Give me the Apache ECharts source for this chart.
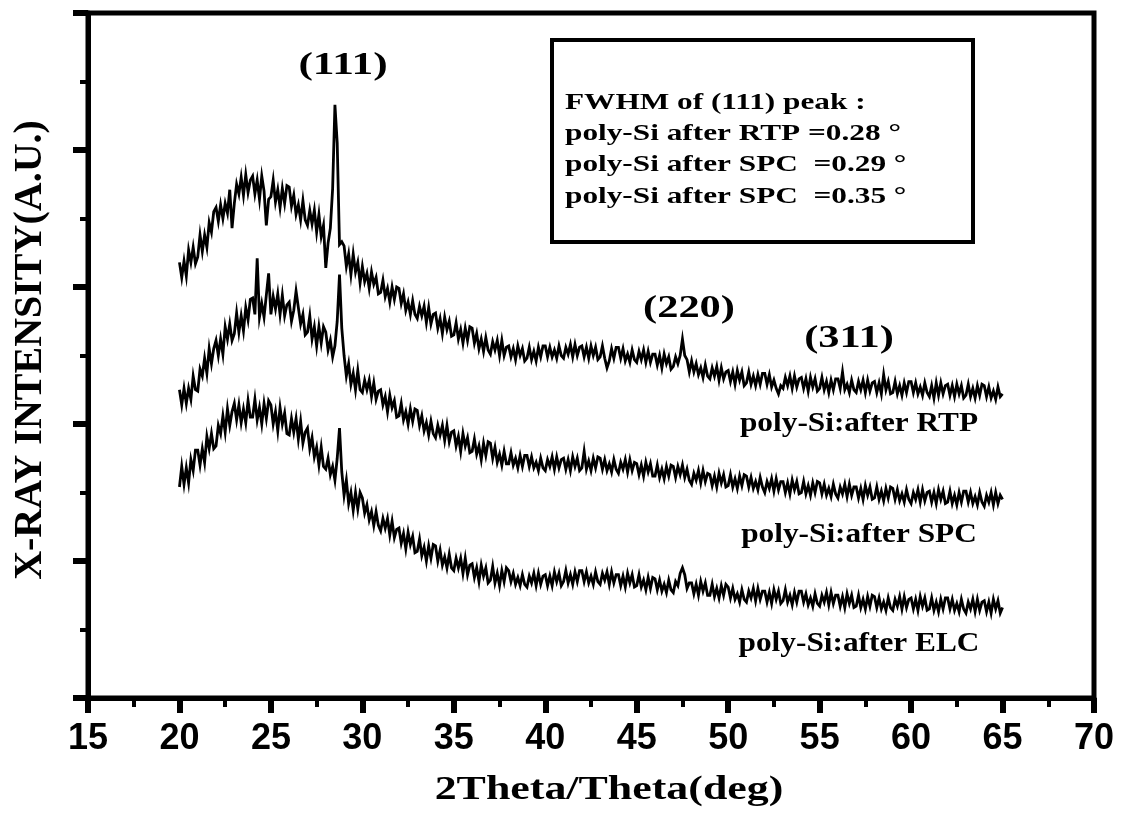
<!DOCTYPE html>
<html>
<head>
<meta charset="utf-8">
<script src="https://cdn.jsdelivr.net/npm/echarts@6/dist/echarts.min.js"></script>
<style>html,body{margin:0;padding:0;background:#fff;}#chart{width:1128px;height:832px;}</style>
</head>
<body>
<div id="chart"></div>
<script>
// 2Theta sampling grid (deg): 20 to 65 every 0.125 deg
const thetaStart = 20, thetaStep = 0.125;
const xTicks = [15, 20, 25, 30, 35, 40, 45, 50, 55, 60, 65, 70];
const yRange = [0, 500];   // intensity, arbitrary units (traces offset as in the figure)

// X-ray intensity (A.U.), 8 samples per degree, one line per degree
const rtp = [
 318,307,319,308,327,318,329,317, // 20
 322,338,326,338,329,347,340,355, // 21
 358,348,360,350,361,354,371,343, // 22
 361,375,368,380,367,382,369,378, // 23
 381,368,378,364,381,370,345,364, // 24
 366,378,362,371,358,372,361,374, // 25
 373,359,367,353,360,349,363,349, // 26
 345,356,346,356,340,353,337,345, // 27
 314,332,343,372,433,405,331,333, // 28
 330,315,324,309,324,311,318,303, // 29
 315,304,310,299,311,302,307,295, // 30
 296,305,293,299,289,300,291,300, // 31
 299,288,295,283,289,280,290,280, // 32
 277,286,279,286,274,285,273,280, // 33
 281,270,277,266,278,269,275,264, // 34
 265,274,262,269,259,270,261,271, // 35
 270,259,266,255,262,253,263,254, // 36
 251,260,254,261,250,261,250,256, // 37
 257,249,255,247,257,250,255,246, // 38
 248,256,247,253,246,256,249,257, // 39
 257,249,256,249,254,248,257,250, // 40
 248,256,251,258,249,258,250,256, // 41
 257,249,256,248,257,250,256,247, // 42
 249,257,248,241,246,255,248,256, // 43
 256,248,255,246,251,245,254,247, // 44
 245,253,247,254,245,253,245,251, // 45
 251,243,250,241,251,244,249,240, // 46
 242,249,244,250,262,250,247,238, // 47
 246,238,244,236,241,234,243,235, // 48
 233,241,235,242,232,241,233,238, // 49
 239,231,238,229,239,232,238,228, // 50
 230,238,229,235,228,236,229,237, // 51
 237,229,236,227,232,226,222,228, // 52
 226,234,228,235,226,235,227,233, // 53
 234,226,233,224,234,227,233,224, // 54
 226,234,225,231,223,232,225,233, // 55
 233,226,238,225,229,223,232,225, // 56
 223,231,225,232,223,232,224,230, // 57
 231,223,230,222,236,225,231,222, // 58
 223,231,222,228,221,230,223,231, // 59
 231,223,230,222,227,221,230,223, // 60
 220,228,219,230,221,230,222,228, // 61
 229,221,228,220,229,222,228,219, // 62
 221,229,220,226,219,228,221,229, // 63
 228,220,227,219,224,218,227,220, // 64
 222                              // 65
];
const spc = [
 225,214,226,215,226,218,235,225, // 20
 224,240,235,248,237,255,244,255, // 21
 261,250,262,251,271,262,273,261, // 22
 266,281,267,279,268,285,276,291, // 23
 292,280,321,278,288,278,294,310, // 24
 280,293,284,295,280,294,279,287, // 25
 289,275,283,297,285,273,280,265, // 26
 267,279,262,271,257,271,259,271, // 27
 267,254,261,249,257,275,309,270, // 28
 250,235,244,229,237,225,239,225, // 29
 223,232,225,232,220,230,218,224, // 30
 225,214,220,209,221,212,217,205, // 31
 206,215,203,209,200,211,202,211, // 32
 210,199,206,195,201,192,202,193, // 33
 190,199,192,199,188,199,187,194, // 34
 195,184,191,180,193,184,190,179, // 35
 180,189,178,184,174,186,177,187, // 36
 186,175,183,172,178,170,180,171, // 37
 171,179,170,175,168,177,169,177, // 38
 177,169,176,168,172,166,175,168, // 39
 166,174,169,176,167,176,168,174, // 40
 175,167,174,166,176,169,175,166, // 41
 168,180,167,173,166,175,168,176, // 42
 175,167,174,166,171,165,174,167, // 43
 164,172,167,174,165,174,166,172, // 44
 171,163,170,162,172,165,171,162, // 45
 162,170,161,167,160,169,162,170, // 46
 169,161,169,163,170,161,167,159, // 47
 156,164,159,166,157,166,158,164, // 48
 163,155,162,154,164,157,163,154, // 49
 155,163,154,160,153,162,155,163, // 50
 162,154,161,153,158,152,161,154, // 51
 150,158,153,160,151,160,152,158, // 52
 158,150,157,149,159,152,158,149, // 53
 150,158,149,155,148,157,150,158, // 54
 157,149,156,148,153,147,156,149, // 55
 146,154,149,156,147,156,148,154, // 56
 154,146,153,145,155,148,154,145, // 57
 146,154,145,151,144,153,146,154, // 58
 153,145,152,144,149,143,152,145, // 59
 142,150,145,152,143,152,144,150, // 60
 151,143,150,142,152,145,151,142, // 61
 143,151,142,148,141,150,143,151, // 62
 151,143,150,142,147,141,150,143, // 63
 140,148,143,150,141,150,142,148, // 64
 145                              // 65
];
const elc = [
 154,169,156,168,157,174,166,181, // 20
 181,170,182,172,191,182,193,182, // 21
 184,199,193,206,194,211,199,209, // 22
 215,203,214,201,211,201,217,205, // 23
 205,218,203,212,200,215,204,217, // 24
 214,200,209,195,212,200,208,193, // 25
 192,204,194,204,189,202,186,194, // 26
 197,182,190,176,183,170,183,169, // 27
 167,175,163,169,159,175,197,165, // 28
 148,159,142,150,137,150,138,150, // 29
 146,135,141,130,136,126,136,126, // 30
 122,131,124,131,119,129,117,123, // 31
 124,113,120,109,121,112,118,106, // 32
 107,116,104,110,100,111,102,112, // 33
 111,100,108, 97,103, 95,105, 95, // 34
  93,102, 95,102, 91,102, 90, 97, // 35
  98, 88, 95, 85, 97, 89, 95, 84, // 36
  86, 96, 84, 91, 82, 93, 85, 95, // 37
  93, 85, 91, 83, 88, 82, 90, 83, // 38
  81, 89, 84, 91, 82, 91, 83, 89, // 39
  90, 82, 89, 82, 92, 85, 91, 82, // 40
  85, 93, 84, 90, 83, 92, 85, 93, // 41
  93, 85, 92, 84, 89, 83, 92, 85, // 42
  83, 91, 86, 92, 83, 92, 84, 90, // 43
  90, 82, 89, 81, 91, 84, 90, 81, // 44
  82, 90, 81, 86, 79, 88, 80, 88, // 45
  87, 79, 86, 78, 83, 77, 86, 79, // 46
  77, 85, 82, 91, 95, 90, 80, 84, // 47
  84, 76, 83, 75, 85, 78, 84, 75, // 48
  75, 83, 74, 80, 73, 82, 75, 83, // 49
  81, 73, 80, 72, 76, 70, 79, 72, // 50
  70, 78, 73, 80, 71, 80, 72, 78, // 51
  78, 70, 77, 69, 79, 72, 78, 69, // 52
  71, 79, 70, 75, 68, 77, 70, 78, // 53
  78, 70, 76, 68, 73, 67, 76, 69, // 54
  67, 75, 70, 77, 68, 77, 69, 75, // 55
  75, 67, 74, 66, 76, 69, 75, 66, // 56
  67, 75, 66, 72, 65, 74, 67, 75, // 57
  74, 66, 73, 65, 70, 64, 73, 66, // 58
  64, 72, 67, 74, 65, 74, 66, 72, // 59
  73, 65, 72, 64, 74, 67, 73, 64, // 60
  65, 73, 64, 70, 63, 72, 65, 73, // 61
  73, 65, 72, 64, 69, 63, 72, 65, // 62
  62, 70, 65, 72, 63, 72, 64, 70, // 63
  71, 63, 70, 62, 72, 65, 71, 62, // 64
  66                              // 65
];

const seriesNames = ['poly-Si:after RTP', 'poly-Si:after SPC', 'poly-Si:after ELC'];
const peakLabels = ['(111)', '(220)', '(311)'];
const fwhmLines = [
  'FWHM of (111) peak :',
  'poly-Si after RTP =0.28 \u00b0',
  'poly-Si after SPC  =0.29 \u00b0',
  'poly-Si after SPC  =0.35 \u00b0'
];
const xName = '2Theta/Theta(deg)';
const yName = 'X-RAY INTENSITY(A.U.)';

function pairs(vals) {
  return vals.map((v, i) => [thetaStart + i * thetaStep, v]);
}

const serif = '"Liberation Serif","Times New Roman",serif';
function txt(text, x, y, size, sx, align, extra) {
  return Object.assign({
    type: 'text', x: x, y: y, scaleX: sx, z: 20,
    style: { text: text, font: 'bold ' + size + 'px ' + serif, fill: '#000',
             align: align || 'center', verticalAlign: 'middle' }
  }, extra || {});
}

const chart = echarts.init(document.getElementById('chart'), null, { renderer: 'canvas' });
const lineSeries = [rtp, spc, elc].map((vals, k) => ({
  name: seriesNames[k], type: 'line', data: pairs(vals), showSymbol: false, symbol: 'none',
  lineStyle: { color: '#000', width: 2.8, join: 'miter' }, itemStyle: { color: '#000' }, animation: false, z: 3
}));

chart.setOption({
  animation: false,
  backgroundColor: '#fff',
  grid: { left: 88, right: 34, top: 13, bottom: 134, show: true, borderColor: '#000', borderWidth: 5, backgroundColor: 'transparent' },
  xAxis: {
    type: 'value', min: xTicks[0], max: xTicks[xTicks.length - 1], interval: 5,
    axisLine: { show: true, lineStyle: { color: '#000', width: 5 } },
    axisTick: { show: true, inside: false, length: 15, lineStyle: { color: '#000', width: 6 } },
    minorTick: { show: true, splitNumber: 2, length: 9, lineStyle: { color: '#000', width: 4 } },
    splitLine: { show: false },
    axisLabel: { show: true, margin: 23, color: '#000', fontSize: 36, fontWeight: 'bold', fontFamily: '"Liberation Sans",Arial,sans-serif' }
  },
  yAxis: {
    type: 'value', min: yRange[0], max: yRange[1], interval: 100,
    axisLine: { show: true, lineStyle: { color: '#000', width: 5 } },
    axisTick: { show: true, inside: false, length: 15, lineStyle: { color: '#000', width: 6 } },
    minorTick: { show: true, splitNumber: 2, length: 8, lineStyle: { color: '#000', width: 4 } },
    splitLine: { show: false },
    axisLabel: { show: false }
  },
  series: lineSeries,
  graphic: [
    { type: 'rect', z: 15, shape: { x: 552, y: 40, width: 421, height: 202 },
      style: { fill: '#fff', stroke: '#000', lineWidth: 4 } },
    txt(fwhmLines[0], 565, 103, 23, 1.36, 'left'),
    txt(fwhmLines[1], 565, 134, 23, 1.36, 'left'),
    txt(fwhmLines[2], 565, 165, 23, 1.36, 'left'),
    txt(fwhmLines[3], 565, 197, 23, 1.36, 'left'),
    txt(peakLabels[0], 343, 66, 31, 1.4),
    txt(peakLabels[1], 689, 309, 31, 1.37),
    txt(peakLabels[2], 849, 339, 31, 1.37),
    txt(seriesNames[0], 859, 424, 27, 1.16),
    txt(seriesNames[1], 859, 535, 27, 1.16),
    txt(seriesNames[2], 859, 644, 27, 1.16),
    txt(xName, 609, 790, 33, 1.33),
    txt(yName, 31, 350, 40, 1.0, 'center', { rotation: Math.PI / 2 })
  ]
});
</script>
</body>
</html>
